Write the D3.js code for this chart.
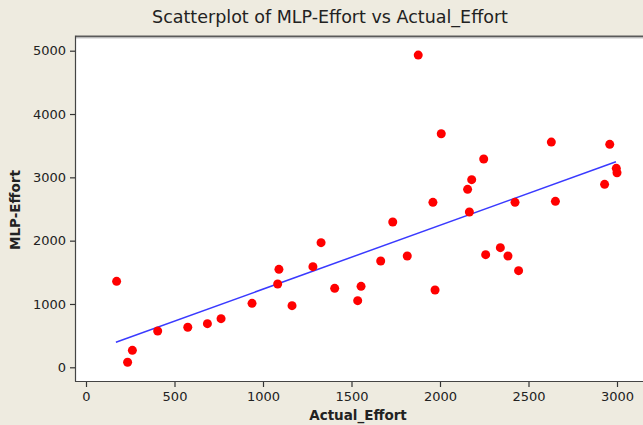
<!DOCTYPE html>
<html>
<head>
<meta charset="utf-8">
<script src="https://cdn.jsdelivr.net/npm/d3@7"></script>
<style>
  html, body { margin: 0; padding: 0; background: #EEEBE0; }
  svg { display: block; }
</style>
</head>
<body>
<script>
// ---- Data ----
const actualEffort = [173, 235, 262, 405, 575, 686, 763, 938, 1083, 1090, 1164, 1282, 1328, 1405, 1535, 1554,
  1665, 1733, 1815, 1877, 1960, 1972, 2007, 2156, 2166, 2179, 2247, 2258, 2341, 2384, 2424, 2444,
  2629, 2652, 2930, 2959, 2996, 3000];
const mlpEffort = [1358, 79, 268, 573, 632, 689, 768, 1010, 1315, 1547, 973, 1589, 1968, 1247, 1052, 1279,
  1679, 2294, 1757, 4931, 2605, 1221, 3689, 2810, 2452, 2963, 3289, 1779, 1889, 1757, 2605, 1526,
  3557, 2621, 2889, 3521, 3142, 3073];
const fitX = [169, 2994];
const fitY = [395, 3247];
const xTicks = [0, 500, 1000, 1500, 2000, 2500, 3000];
const yTicks = [0, 1000, 2000, 3000, 4000, 5000];

const W = 643, H = 425;
const frame = { left: 76, top: 37, right: 643, bottom: 381 };

const svg = d3.select("body").append("svg").attr("width", W).attr("height", H);
svg.append("rect").attr("width", W).attr("height", H).attr("fill", "#EEEBE0");

const x = d3.scaleLinear().domain([0, 3000]).range([86, 617]);
const y = d3.scaleLinear().domain([0, 5000]).range([367.3, 50.7]);

// plot area
svg.append("rect")
  .attr("x", frame.left).attr("y", frame.top)
  .attr("width", frame.right - frame.left).attr("height", frame.bottom - frame.top)
  .attr("fill", "#ffffff");
// frame lines
svg.append("line").attr("x1", frame.left).attr("x2", frame.right)
  .attr("y1", frame.top - 0.5).attr("y2", frame.top - 0.5)
  .attr("stroke", "#5a5a5a").attr("stroke-width", 2);
svg.append("line").attr("x1", frame.left).attr("x2", frame.right)
  .attr("y1", frame.top + 1).attr("y2", frame.top + 1)
  .attr("stroke", "#c8c8c8").attr("stroke-width", 1);
svg.append("line").attr("x1", frame.left - 0.5).attr("x2", frame.left - 0.5)
  .attr("y1", frame.top - 1.5).attr("y2", frame.bottom + 0.5)
  .attr("stroke", "#444").attr("stroke-width", 1.2);
svg.append("line").attr("x1", frame.left - 1).attr("x2", frame.right)
  .attr("y1", frame.bottom + 0.5).attr("y2", frame.bottom + 0.5)
  .attr("stroke", "#444").attr("stroke-width", 1.2);

const font = "'DejaVu Sans', Verdana, sans-serif";

// x axis
const xAxis = svg.append("g").attr("transform", `translate(0,${frame.bottom + 1})`)
  .call(d3.axisBottom(x).tickValues(xTicks).tickSize(5).tickPadding(5).tickFormat(d3.format("d")));
xAxis.select(".domain").remove();
xAxis.selectAll("line").attr("stroke", "#333").attr("stroke-width", 1.2);
xAxis.selectAll("text").attr("fill", "#222").style("font-family", font).style("font-size", "13px");

// y axis
const yAxis = svg.append("g").attr("transform", `translate(${frame.left - 1},0)`)
  .call(d3.axisLeft(y).tickValues(yTicks).tickSize(5).tickPadding(4).tickFormat(d3.format("d")));
yAxis.select(".domain").remove();
yAxis.selectAll("line").attr("stroke", "#333").attr("stroke-width", 1.2);
yAxis.selectAll("text").attr("fill", "#222").style("font-family", font).style("font-size", "13px");

// regression line
svg.append("path")
  .datum(fitX.map((v, i) => [v, fitY[i]]))
  .attr("d", d3.line().x(d => x(d[0])).y(d => y(d[1])))
  .attr("fill", "none").attr("stroke", "#3a3aff").attr("stroke-width", 1.5);

// points
svg.append("g").selectAll("circle")
  .data(actualEffort.map((v, i) => [v, mlpEffort[i]]))
  .join("circle")
  .attr("cx", d => x(d[0])).attr("cy", d => y(d[1]))
  .attr("r", 4.5).attr("fill", "#ff0000");

// title
svg.append("text").attr("x", 330).attr("y", 23).attr("text-anchor", "middle")
  .style("font-family", font).style("font-size", "17.5px").attr("fill", "#222")
  .text("Scatterplot of MLP-Effort vs Actual_Effort");

// axis titles
svg.append("text").attr("x", 358).attr("y", 420).attr("text-anchor", "middle")
  .style("font-family", font).style("font-size", "13.5px").style("font-weight", "bold").attr("fill", "#222")
  .text("Actual_Effort");
svg.append("text").attr("transform", "translate(20,210) rotate(-90)").attr("text-anchor", "middle")
  .style("font-family", font).style("font-size", "13.5px").style("font-weight", "bold").attr("fill", "#222")
  .text("MLP-Effort");
</script>
</body>
</html>
